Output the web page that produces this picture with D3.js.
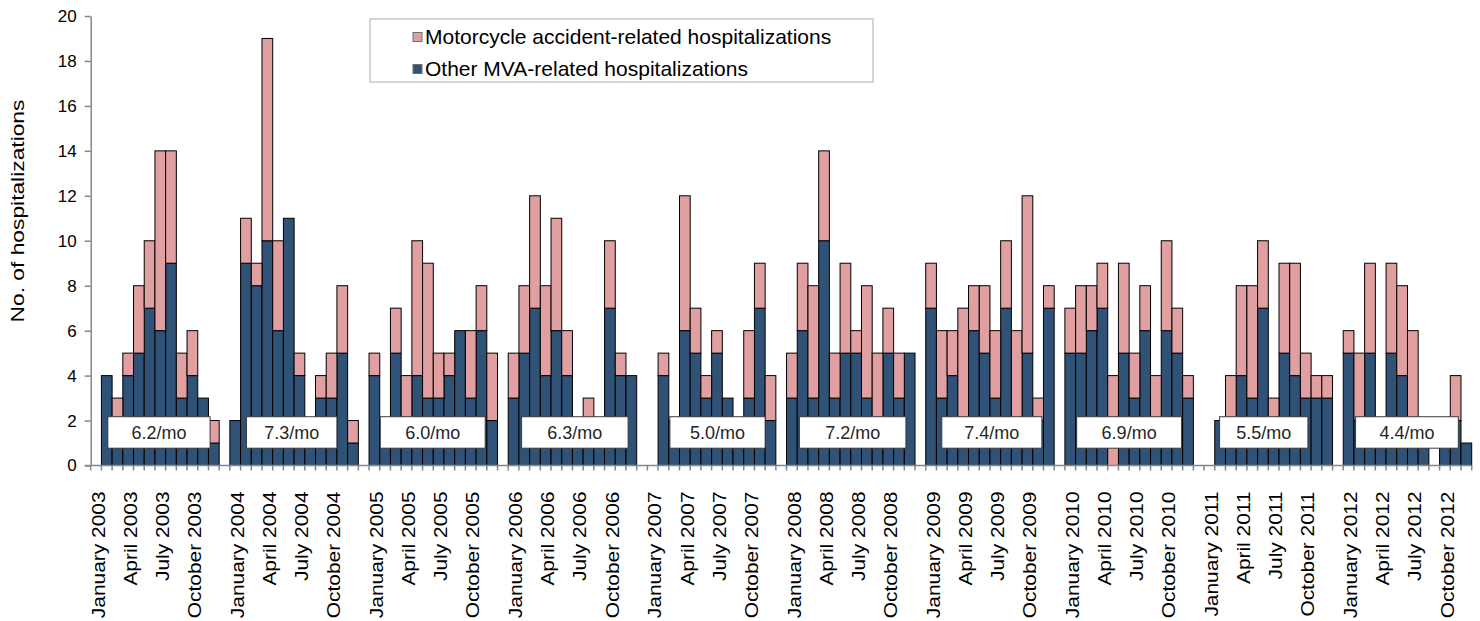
<!DOCTYPE html>
<html>
<head>
<meta charset="utf-8">
<script src="https://cdn.jsdelivr.net/npm/d3@7"></script>
<style>
  body { margin: 0; background: #fff; }
  svg { display: block; font-family: "Liberation Sans", Arial, sans-serif; }
</style>
</head>
<body>
<div id="chart-area"></div>
<script>
var width = 1480;
var height = 621;

// data, one value per month Jan..Dec for each year
var years = [2003, 2004, 2005, 2006, 2007, 2008, 2009, 2010, 2011, 2012];
var monthNames = ["January", "February", "March", "April", "May", "June",
    "July", "August", "September", "October", "November", "December"];

var otherMVA = [
    0, 4, 2, 4, 5, 7, 6, 9, 3, 4, 3, 1,      // 2003
    2, 9, 8, 10, 6, 11, 4, 2, 3, 3, 5, 1,    // 2004
    4, 2, 5, 2, 4, 3, 3, 4, 6, 3, 6, 2,      // 2005
    3, 5, 7, 4, 6, 4, 2, 2, 2, 7, 4, 4,      // 2006
    0, 4, 2, 6, 5, 3, 5, 3, 2, 3, 7, 2,      // 2007
    3, 6, 3, 10, 3, 5, 5, 3, 2, 5, 3, 5,     // 2008
    7, 3, 4, 2, 6, 5, 3, 7, 2, 5, 2, 7,      // 2009
    5, 5, 6, 7, 0, 5, 3, 6, 2, 6, 5, 3,      // 2010
    0, 2, 2, 4, 3, 7, 2, 5, 4, 3, 3, 3,      // 2011
    5, 2, 5, 2, 5, 4, 2, 2, 0, 1, 2, 1       // 2012
];
var motorcycle = [
    0, 0, 1, 1, 3, 3, 8, 5, 2, 2, 0, 1,
    0, 2, 1, 9, 4, 0, 1, 0, 1, 2, 3, 1,
    1, 0, 2, 2, 6, 6, 2, 1, 0, 3, 2, 3,
    2, 3, 5, 4, 5, 2, 0, 1, 0, 3, 1, 0,
    0, 1, 0, 6, 2, 1, 1, 0, 0, 3, 2, 2,
    2, 3, 5, 4, 2, 4, 1, 5, 3, 2, 2, 0,
    2, 3, 2, 5, 2, 3, 3, 3, 4, 7, 1, 1,
    2, 3, 2, 2, 4, 4, 2, 2, 2, 4, 2, 1,
    0, 0, 2, 4, 5, 3, 1, 4, 5, 2, 1, 1,
    1, 3, 4, 0, 4, 4, 4, 0, 0, 0, 2, 0
];
var yearAverages = ["6.2/mo", "7.3/mo", "6.0/mo", "6.3/mo", "5.0/mo",
    "7.2/mo", "7.4/mo", "6.9/mo", "5.5/mo", "4.4/mo"];
var yTicks = [0, 2, 4, 6, 8, 10, 12, 14, 16, 18, 20];
var seriesNames = ["Motorcycle accident-related hospitalizations", "Other MVA-related hospitalizations"];

// layout: where each "x.x/mo" box sits inside its year, in month widths
var boxSpan = [[1.6, 11.15], [1.55, 10.0], [1.05, 10.85], [1.25, 11.2], [2.1, 11.0],
    [1.2, 11.15], [1.5, 10.85], [1.1, 10.9], [1.45, 9.7], [1.15, 10.75]];

var blue = "#2f5276";
var pink = "#e0a0a1";
var axisGray = "#868686";

var svg = d3.select("#chart-area").append("svg")
    .attr("width", width)
    .attr("height", height);

// build month rows + one empty slot between years
var rows = [];
var slots = [];
years.forEach(function(yr, yi) {
    monthNames.forEach(function(m, mi) {
        var key = m + " " + yr;
        slots.push(key);
        rows.push({key: key, month: mi, year: yr, other: otherMVA[yi * 12 + mi], moto: motorcycle[yi * 12 + mi]});
    });
    if (yi < years.length - 1) slots.push("gap " + yr);
});

var x = d3.scaleBand()
    .domain(slots)
    .range([90.7, 1471.7])
    .padding(0);

var y = d3.scaleLinear()
    .domain([0, 20])
    .range([465.5, 16]);

var bw = x.bandwidth();

// stacked bars
var stack = d3.stack().keys(["other", "moto"]);
var layers = stack(rows);
var colors = [blue, pink];

svg.selectAll("g.layer")
    .data(layers)
    .enter().append("g")
    .attr("class", "layer")
    .attr("fill", function(d, i) { return colors[i]; })
    .selectAll("rect")
    .data(function(d) { return d.filter(function(p) { return p[1] - p[0] > 0; }); })
    .enter().append("rect")
    .attr("x", function(d) { return x(d.data.key); })
    .attr("width", bw)
    .attr("y", function(d) { return y(d[1]); })
    .attr("height", function(d) { return y(d[0]) - y(d[1]); })
    .attr("stroke", "#000")
    .attr("stroke-width", 1);

// y axis
var yAxis = d3.axisLeft(y)
    .tickValues(yTicks)
    .tickSize(6)
    .tickPadding(8)
    .tickSizeOuter(0);

var gy = svg.append("g")
    .attr("transform", "translate(90.7,0)")
    .call(yAxis);
gy.select(".domain").attr("stroke", axisGray).attr("stroke-width", 1.5);
gy.selectAll(".tick line").attr("stroke", axisGray).attr("stroke-width", 1.5);
gy.selectAll(".tick text")
    .attr("font-size", 17)
    .attr("font-family", "Liberation Sans, Arial, sans-serif")
    .attr("fill", "#000");

// x axis line + ticks between every slot
svg.append("line")
    .attr("x1", 84.7).attr("x2", 1471.7)
    .attr("y1", y(0)).attr("y2", y(0))
    .attr("stroke", axisGray)
    .attr("stroke-width", 1.5);

var edges = slots.map(function(s) { return x(s); }).concat([x.range()[1]]);
svg.selectAll("line.xtick")
    .data(edges)
    .enter().append("line")
    .attr("class", "xtick")
    .attr("x1", function(d) { return d; })
    .attr("x2", function(d) { return d; })
    .attr("y1", y(0))
    .attr("y2", y(0) + 5)
    .attr("stroke", axisGray)
    .attr("stroke-width", 1.5);

// month labels every 3 months
var labelKeys = rows.filter(function(r) { return r.month % 3 === 0; }).map(function(r) { return r.key; });
var xAxis = d3.axisBottom(x)
    .tickValues(labelKeys)
    .tickSize(0)
    .tickSizeOuter(0);

var gx = svg.append("g")
    .attr("transform", "translate(0," + y(0) + ")")
    .call(xAxis);
gx.select(".domain").remove();
// the labels in the original are drawn a little longer than the font normally gives
gx.selectAll(".tick text")
    .attr("transform", "rotate(-90) scale(1.1,1)")
    .attr("text-anchor", "end")
    .attr("x", -26 / 1.1)
    .attr("y", 2)
    .attr("dy", "0.35em")
    .attr("font-size", 19)
    .attr("font-family", "Liberation Sans, Arial, sans-serif")
    .attr("fill", "#000");

// y axis title
svg.append("text")
    .attr("transform", "translate(17,211) rotate(-90) scale(1.2,1)")
    .attr("text-anchor", "middle")
    .attr("dy", "0.35em")
    .attr("font-size", 19)
    .attr("fill", "#000")
    .text("No. of hospitalizations");

// per-year average boxes
var boxes = svg.selectAll("g.avg")
    .data(yearAverages)
    .enter().append("g")
    .attr("class", "avg");

boxes.append("rect")
    .attr("x", function(d, i) { return x(monthNames[0] + " " + years[i]) + boxSpan[i][0] * bw; })
    .attr("width", function(d, i) { return (boxSpan[i][1] - boxSpan[i][0]) * bw; })
    .attr("y", y(2.17))
    .attr("height", y(0.77) - y(2.17))
    .attr("fill", "#fff")
    .attr("stroke", "#3a3a3a")
    .attr("stroke-width", 1);

boxes.append("text")
    .attr("x", function(d, i) { return x(monthNames[0] + " " + years[i]) + (boxSpan[i][0] + boxSpan[i][1]) / 2 * bw; })
    .attr("y", (y(2.17) + y(0.77)) / 2)
    .attr("dy", "0.35em")
    .attr("text-anchor", "middle")
    .attr("font-size", 18)
    .attr("fill", "#262626")
    .text(function(d) { return d; });

// legend
var legend = svg.append("g");
legend.append("rect")
    .attr("x", 370).attr("y", 19)
    .attr("width", 503).attr("height", 63)
    .attr("fill", "#fff")
    .attr("stroke", "#c8c8c8")
    .attr("stroke-width", 1.5);

var legendColors = [pink, blue];
var li = legend.selectAll("g.item")
    .data(seriesNames)
    .enter().append("g")
    .attr("class", "item")
    .attr("transform", function(d, i) { return "translate(413," + (37 + i * 32) + ")"; });

li.append("rect")
    .attr("x", 0).attr("y", -4.5)
    .attr("width", 9).attr("height", 9)
    .attr("fill", function(d, i) { return legendColors[i]; })
    .attr("stroke", "#6e6e6e")
    .attr("stroke-width", 1);

li.append("text")
    .attr("x", 12)
    .attr("dy", "0.35em")
    .attr("font-size", 21)
    .attr("fill", "#000")
    .text(function(d) { return d; });
</script>
</body>
</html>
